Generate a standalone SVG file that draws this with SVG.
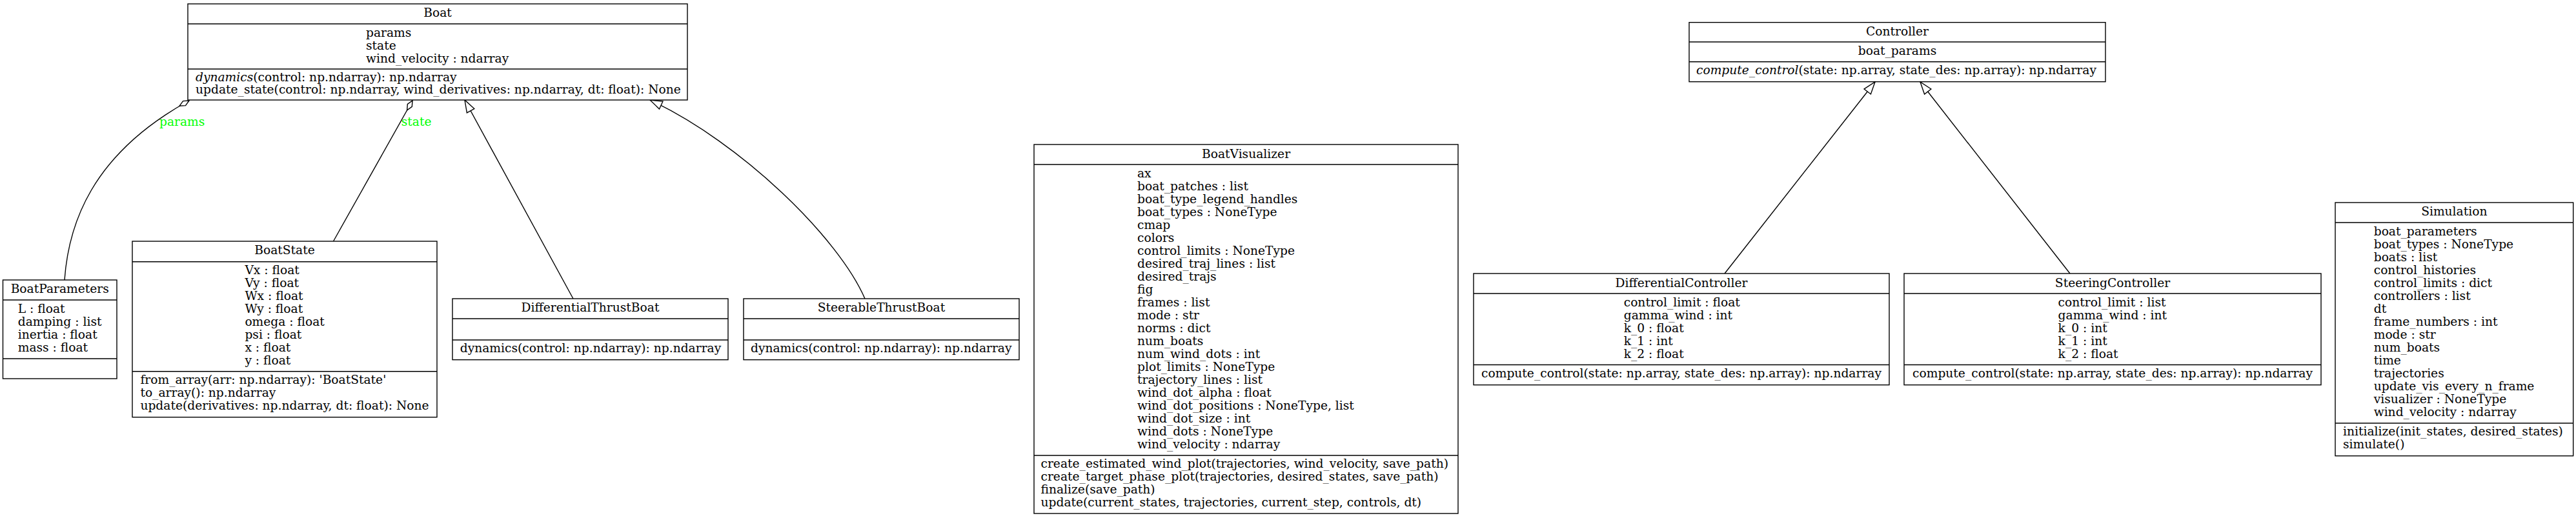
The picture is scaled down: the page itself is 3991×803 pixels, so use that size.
<svg xmlns="http://www.w3.org/2000/svg" width="3991" height="803" viewBox="0 0 3991 803">
<style>
text{font-family:"DejaVu Serif","Liberation Serif",serif;font-size:18.67px;fill:#000}
.t{text-anchor:middle}
.m{text-anchor:middle}
.box{fill:#fff;stroke:#000;stroke-width:1.4}
.sep{stroke:#000;stroke-width:1.4}
.edge{fill:none;stroke:#000;stroke-width:1.4}
.lbl{fill:#00ff00}
.it{font-style:italic}
</style>
<defs>
<marker id="tri" markerUnits="userSpaceOnUse" markerWidth="22" markerHeight="16" refX="19" refY="7" orient="auto" overflow="visible">
<path d="M0,0.5 L19,7 L0,13.5 z" fill="#fff" stroke="#000" stroke-width="1.4"/>
</marker>
<marker id="dia" markerUnits="userSpaceOnUse" markerWidth="20" markerHeight="12" refX="17" refY="4.5" orient="auto" overflow="visible">
<path d="M0,4.5 L8.5,0.5 L17,4.5 L8.5,8.5 z" fill="#fff" stroke="#000" stroke-width="1.4"/>
</marker>
</defs>

<g id="connectors">
<path class="edge" d="M100,434 C106,350 140,240 293,156" marker-end="url(#dia)"/>
<text class="lbl" x="247" y="195">params</text>
<path class="edge" d="M516.5,374 L639,156" marker-end="url(#dia)"/>
<text class="lbl" x="621.7" y="195">state</text>
<path class="edge" d="M888,463 L720,155" marker-end="url(#tri)"/>
<path class="edge" d="M1340,463 C1300,370 1150,222 1007,155" marker-end="url(#tri)"/>
<path class="edge" d="M2672,424 L2905,127" marker-end="url(#tri)"/>
<path class="edge" d="M3207,424 L2975,127" marker-end="url(#tri)"/>
</g>

<g id="Boat">
<rect class="box" x="291" y="6" width="774" height="149"/>
<line class="sep" x1="291" y1="37" x2="1065" y2="37"/>
<line class="sep" x1="291" y1="107" x2="1065" y2="107"/>
<text class="t" x="678" y="26">Boat</text>
<text x="567" y="57">params</text>
<text x="567" y="77">state</text>
<text x="567" y="97">wind_velocity : ndarray</text>
<text x="303" y="126"><tspan class="it">dynamics</tspan>(control: np.ndarray): np.ndarray</text>
<text x="303" y="145">update_state(control: np.ndarray, wind_derivatives: np.ndarray, dt: float): None</text>
</g>

<g id="BoatParameters">
<rect class="box" x="4.5" y="434" width="176.5" height="153"/>
<line class="sep" x1="4.5" y1="465" x2="181" y2="465"/>
<line class="sep" x1="4.5" y1="556" x2="181" y2="556"/>
<text class="t" x="92.75" y="454">BoatParameters</text>
<text x="27.7" y="485">L : float</text>
<text x="27.7" y="505">damping : list</text>
<text x="27.7" y="525">inertia : float</text>
<text x="27.7" y="545">mass : float</text>
</g>

<g id="BoatState">
<rect class="box" x="205" y="374" width="472" height="272.7"/>
<line class="sep" x1="205" y1="405.7" x2="677" y2="405.7"/>
<line class="sep" x1="205" y1="575.7" x2="677" y2="575.7"/>
<text class="t" x="441" y="394">BoatState</text>
<text x="379.4" y="425">Vx : float</text>
<text x="379.4" y="445">Vy : float</text>
<text x="379.4" y="465">Wx : float</text>
<text x="379.4" y="485">Wy : float</text>
<text x="379.4" y="505">omega : float</text>
<text x="379.4" y="525">psi : float</text>
<text x="379.4" y="545">x : float</text>
<text x="379.4" y="565">y : float</text>
<text x="217.4" y="595">from_array(arr: np.ndarray): 'BoatState'</text>
<text x="217.4" y="615">to_array(): np.ndarray</text>
<text x="217.4" y="635">update(derivatives: np.ndarray, dt: float): None</text>
</g>

<g id="DifferentialThrustBoat">
<rect class="box" x="701" y="463" width="427" height="94.7"/>
<line class="sep" x1="701" y1="494" x2="1128" y2="494"/>
<line class="sep" x1="701" y1="527" x2="1128" y2="527"/>
<text class="t" x="914.5" y="483">DifferentialThrustBoat</text>
<text x="712.7" y="546">dynamics(control: np.ndarray): np.ndarray</text>
</g>

<g id="SteerableThrustBoat">
<rect class="box" x="1152" y="463" width="427" height="94.7"/>
<line class="sep" x1="1152" y1="494" x2="1579" y2="494"/>
<line class="sep" x1="1152" y1="527" x2="1579" y2="527"/>
<text class="t" x="1365.5" y="483">SteerableThrustBoat</text>
<text x="1163" y="546">dynamics(control: np.ndarray): np.ndarray</text>
</g>

<g id="BoatVisualizer">
<rect class="box" x="1602" y="224" width="657" height="572"/>
<line class="sep" x1="1602" y1="255" x2="2259" y2="255"/>
<line class="sep" x1="1602" y1="706" x2="2259" y2="706"/>
<text class="t" x="1930.5" y="245">BoatVisualizer</text>
<text x="1762" y="275">ax</text>
<text x="1762" y="295">boat_patches : list</text>
<text x="1762" y="315">boat_type_legend_handles</text>
<text x="1762" y="335">boat_types : NoneType</text>
<text x="1762" y="355">cmap</text>
<text x="1762" y="375">colors</text>
<text x="1762" y="395">control_limits : NoneType</text>
<text x="1762" y="415">desired_traj_lines : list</text>
<text x="1762" y="435">desired_trajs</text>
<text x="1762" y="455">fig</text>
<text x="1762" y="475">frames : list</text>
<text x="1762" y="495">mode : str</text>
<text x="1762" y="515">norms : dict</text>
<text x="1762" y="535">num_boats</text>
<text x="1762" y="555">num_wind_dots : int</text>
<text x="1762" y="575">plot_limits : NoneType</text>
<text x="1762" y="595">trajectory_lines : list</text>
<text x="1762" y="615">wind_dot_alpha : float</text>
<text x="1762" y="635">wind_dot_positions : NoneType, list</text>
<text x="1762" y="655">wind_dot_size : int</text>
<text x="1762" y="675">wind_dots : NoneType</text>
<text x="1762" y="695">wind_velocity : ndarray</text>
<text x="1612.5" y="725">create_estimated_wind_plot(trajectories, wind_velocity, save_path)</text>
<text x="1612.5" y="745">create_target_phase_plot(trajectories, desired_states, save_path)</text>
<text x="1612.5" y="765">finalize(save_path)</text>
<text x="1612.5" y="785">update(current_states, trajectories, current_step, controls, dt)</text>
</g>

<g id="Controller">
<rect class="box" x="2617" y="34.7" width="645" height="92"/>
<line class="sep" x1="2617" y1="65" x2="3262" y2="65"/>
<line class="sep" x1="2617" y1="95.7" x2="3262" y2="95.7"/>
<text class="t" x="2939.5" y="55">Controller</text>
<text class="t" x="2939.5" y="85">boat_params</text>
<text x="2628" y="115"><tspan class="it">compute_control</tspan>(state: np.array, state_des: np.array): np.ndarray</text>
</g>

<g id="DifferentialController">
<rect class="box" x="2283" y="424" width="644" height="172.7"/>
<line class="sep" x1="2283" y1="455" x2="2927" y2="455"/>
<line class="sep" x1="2283" y1="565.5" x2="2927" y2="565.5"/>
<text class="t" x="2605" y="445">DifferentialController</text>
<text x="2515.7" y="475">control_limit : float</text>
<text x="2515.7" y="495">gamma_wind : int</text>
<text x="2515.7" y="515">k_0 : float</text>
<text x="2515.7" y="535">k_1 : int</text>
<text x="2515.7" y="555">k_2 : float</text>
<text class="m" x="2605" y="585">compute_control(state: np.array, state_des: np.array): np.ndarray</text>
</g>

<g id="SteeringController">
<rect class="box" x="2950" y="424" width="646" height="172.7"/>
<line class="sep" x1="2950" y1="455" x2="3596" y2="455"/>
<line class="sep" x1="2950" y1="565.5" x2="3596" y2="565.5"/>
<text class="t" x="3273" y="445">SteeringController</text>
<text x="3188.6" y="475">control_limit : list</text>
<text x="3188.6" y="495">gamma_wind : int</text>
<text x="3188.6" y="515">k_0 : int</text>
<text x="3188.6" y="535">k_1 : int</text>
<text x="3188.6" y="555">k_2 : float</text>
<text class="m" x="3273" y="585">compute_control(state: np.array, state_des: np.array): np.ndarray</text>
</g>

<g id="Simulation">
<rect class="box" x="3618" y="314" width="368.7" height="392.7"/>
<line class="sep" x1="3618" y1="345" x2="3986.7" y2="345"/>
<line class="sep" x1="3618" y1="656" x2="3986.7" y2="656"/>
<text class="t" x="3802.3" y="334">Simulation</text>
<text x="3677.7" y="365">boat_parameters</text>
<text x="3677.7" y="385">boat_types : NoneType</text>
<text x="3677.7" y="405">boats : list</text>
<text x="3677.7" y="425">control_histories</text>
<text x="3677.7" y="445">control_limits : dict</text>
<text x="3677.7" y="465">controllers : list</text>
<text x="3677.7" y="485">dt</text>
<text x="3677.7" y="505">frame_numbers : int</text>
<text x="3677.7" y="525">mode : str</text>
<text x="3677.7" y="545">num_boats</text>
<text x="3677.7" y="565">time</text>
<text x="3677.7" y="585">trajectories</text>
<text x="3677.7" y="605">update_vis_every_n_frame</text>
<text x="3677.7" y="625">visualizer : NoneType</text>
<text x="3677.7" y="645">wind_velocity : ndarray</text>
<text x="3630" y="675">initialize(init_states, desired_states)</text>
<text x="3630" y="695">simulate()</text>
</g>
</svg>
